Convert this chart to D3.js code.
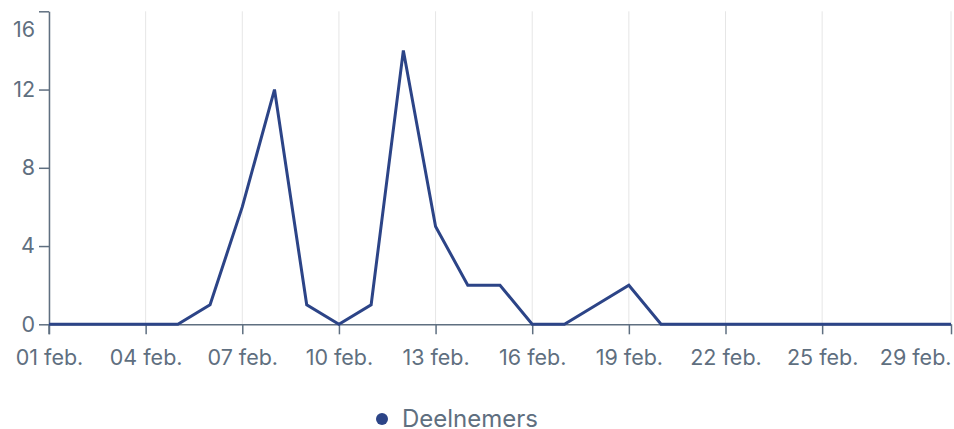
<!DOCTYPE html>
<html>
<head>
<meta charset="utf-8">
<script src="https://cdn.jsdelivr.net/npm/d3@7"></script>
<style>
  body { margin: 0; background: #fff; }
  text { font-family: Inter, "Noto Sans", sans-serif; }
</style>
</head>
<body>
<script>
// data: daily participants, february 2024
var days = d3.range(1, 30);
var values = [0, 0, 0, 0, 0, 1, 6, 12, 1, 0, 1, 14, 5, 2, 2, 0, 0, 1, 2, 0,
              0, 0, 0, 0, 0, 0, 0, 0, 0];
var tickDays = [1, 4, 7, 10, 13, 16, 19, 22, 25, 29];
var yTicks = [0, 4, 8, 12, 16];
var seriesName = 'Deelnemers';

var width = 954, height = 429;
var margin = {top: 11, right: 3, bottom: 105, left: 49};

var axisColor = '#5f6f80',
    lineColor = '#2c4487',
    gridColor = '#e6e6e6';

var parse = function(d) { return new Date(2024, 1, d); };
var fmt = d3.timeFormat('%d');

var x = d3.scaleTime()
  .domain([parse(1), parse(29)])
  .range([margin.left, width - margin.right]);

var y = d3.scaleLinear()
  .domain([0, 16])
  .range([height - margin.bottom + 0.3, margin.top + 0.3]);

var svg = d3.select('body').append('svg')
  .attr('width', width)
  .attr('height', height);

// vertical grid lines
svg.append('g')
  .selectAll('line')
  .data(tickDays)
  .join('line')
    .attr('x1', function(d) { return x(parse(d)); })
    .attr('x2', function(d) { return x(parse(d)); })
    .attr('y1', y(16))
    .attr('y2', y(0))
    .attr('stroke', gridColor)
    .attr('stroke-width', 1);

// x axis
var xAxis = svg.append('g')
  .attr('transform', 'translate(0,' + y(0) + ')')
  .call(d3.axisBottom(x)
    .tickValues(tickDays.map(parse))
    .tickFormat(function(d) { return fmt(d) + ' feb.'; })
    .tickSize(10)
    .tickSizeOuter(0)
    .tickPadding(15));

// y axis
var yAxis = svg.append('g')
  .attr('transform', 'translate(' + margin.left + ',0)')
  .call(d3.axisLeft(y)
    .tickValues(yTicks)
    .tickSize(10)
    .tickSizeOuter(0)
    .tickPadding(4));

[xAxis, yAxis].forEach(function(a) {
  a.select('.domain').attr('stroke', axisColor).attr('stroke-width', 1.5);
  a.selectAll('.tick line').attr('stroke', axisColor).attr('stroke-width', 1.5);
  a.selectAll('.tick text')
    .attr('fill', axisColor)
    .style('font-size', '21.5px');
});

// last x label is kept inside the chart
xAxis.selectAll('.tick text')
  .filter(function(d) { return d.getDate() === 29; })
  .attr('text-anchor', 'end');

// extend y axis a little below the x axis
yAxis.append('line')
  .attr('x1', 0).attr('x2', 0)
  .attr('y1', y(0)).attr('y2', y(0) + 10)
  .attr('stroke', axisColor)
  .attr('stroke-width', 1.5);

// top label sits lower than its tick
yAxis.selectAll('.tick text')
  .filter(function(d) { return d === 16; })
  .attr('y', 18.5);

// the line
var line = d3.line()
  .x(function(d, i) { return x(parse(days[i])); })
  .y(function(d) { return y(d); });

svg.append('path')
  .datum(values)
  .attr('d', line)
  .attr('fill', 'none')
  .attr('stroke', lineColor)
  .attr('stroke-width', 3)
  .attr('stroke-linejoin', 'miter');

// legend
var legend = svg.append('g')
  .attr('transform', 'translate(382,419)');

legend.append('circle')
  .attr('r', 6)
  .attr('fill', lineColor);

legend.append('text')
  .attr('x', 20)
  .attr('dy', '0.35em')
  .attr('fill', axisColor)
  .style('font-size', '24px')
  .text(seriesName);
</script>
</body>
</html>
